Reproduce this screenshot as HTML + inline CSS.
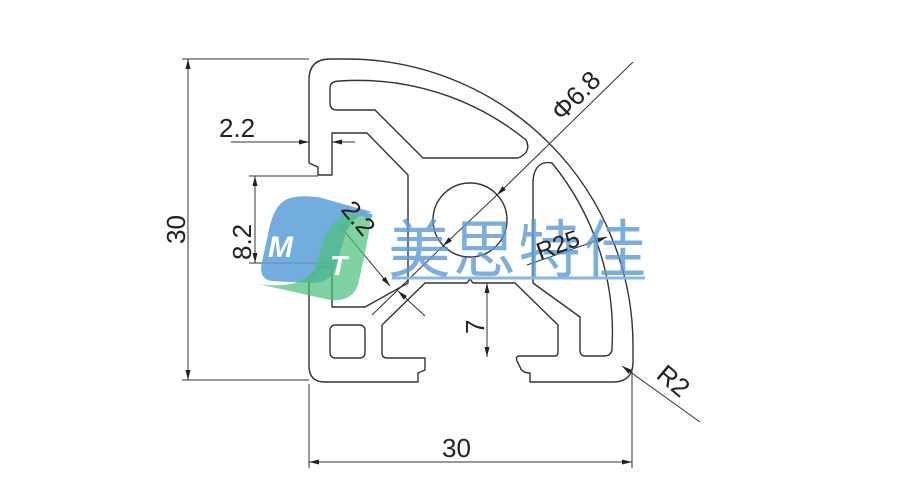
<!DOCTYPE html>
<html><head><meta charset="utf-8"><style>
html,body{margin:0;padding:0;background:#fff;}
svg{display:block;}
text{font-family:"Liberation Sans","DejaVu Sans",sans-serif;fill:#222;}
</style></head><body>
<svg width="900" height="500" viewBox="0 0 900 500" xmlns="http://www.w3.org/2000/svg">
<defs>
<marker id="a" markerWidth="10" markerHeight="6" refX="10" refY="3" orient="auto" markerUnits="userSpaceOnUse">
<path d="M0,0.5 L10,3 L0,5.5 Z" fill="#222"/></marker>
</defs>
<g fill="none" stroke="#333" stroke-width="1.4" stroke-linejoin="round">
<path d="M309,80 Q309,59 330,59 L346,59 A287,287 0 0 1 633,346 L633,362 Q633,382 613,382 L530,382 L530,373 Q522,373 520,367 L517,361 Q515,356 520,356 L555,356 Q558,356 558,352 L558,325 L515,283 L473,283 L470,279 L467,283 L425,283 L382,325 L382,353 Q382,358 387,358 L425,358 L425,370 L418,373 L418,382 L325,382 Q309,382 309,366 L309,278 L320,268 L332,265 L332,307 L365,307 L408,283 L408,175 L367,133 L332,133 L332,175 L318,175 L318,167 L309,163 Z"/>
<path d="M340,81 A266,266 0 0 1 526,140 Q532,152 518,158 L423,158 L375,110 L337,110 Q330,110 330,103 L330,88 Q330,81 340,81 Z"/>
<path d="M552,163 A268,268 0 0 1 612,348 Q612,356 604,356 L585,356 Q580,356 580,350 L580,317 L533,283 L533,180 Q535,160 552,163 Z"/>
<rect x="330" y="325" width="35" height="33" rx="5"/>
<circle cx="470" cy="220" r="37"/>
</g>
<g stroke="#333" stroke-width="1" fill="none">
<line x1="182" y1="59" x2="309" y2="59"/><line x1="182" y1="380" x2="309" y2="380"/>
<line x1="188" y1="220" x2="188" y2="59" marker-end="url(#a)"/><line x1="188" y1="220" x2="188" y2="380" marker-end="url(#a)"/>
<line x1="309" y1="384" x2="309" y2="468"/><line x1="632" y1="368" x2="632" y2="468"/>
<line x1="470" y1="462" x2="309" y2="462" marker-end="url(#a)"/><line x1="470" y1="462" x2="632" y2="462" marker-end="url(#a)"/>
<line x1="231" y1="142" x2="309" y2="142" marker-end="url(#a)"/><line x1="355" y1="142" x2="332" y2="142" marker-end="url(#a)"/>
<line x1="249" y1="176" x2="318" y2="176"/><line x1="249" y1="263" x2="332" y2="263"/>
<line x1="255" y1="220" x2="255" y2="176" marker-end="url(#a)"/><line x1="255" y1="220" x2="255" y2="263" marker-end="url(#a)"/>
<line x1="487" y1="320" x2="487" y2="283" marker-end="url(#a)"/><line x1="487" y1="320" x2="487" y2="357" marker-end="url(#a)"/>
<line x1="633" y1="62" x2="497" y2="195" marker-end="url(#a)"/>
<line x1="497" y1="195" x2="443" y2="246" marker-end="url(#a)"/>
<line x1="443" y1="246" x2="372" y2="315"/>
<line x1="340" y1="226" x2="390" y2="286" marker-end="url(#a)"/>
<line x1="425" y1="316" x2="398" y2="291" marker-end="url(#a)"/>
<line x1="527" y1="265" x2="607" y2="237" marker-end="url(#a)"/>
<line x1="700" y1="422" x2="622" y2="366" marker-end="url(#a)"/>
</g>
<g>
<path d="M290,198 Q300,195 318,197 L372,212 Q352,215 345,235 L337,264 Q332,283 312,283 L272,281 Q258,279 262,262 L270,225 Q276,202 290,198 Z" fill="#5a9fd8" opacity="0.85"/>
<path d="M340,218 Q348,210 362,213 L371,217 Q369,235 363,262 L358,285 Q352,302 330,300 L258,284 Q300,290 314,270 L324,238 Q330,224 340,218 Z" fill="#4cbf7a" opacity="0.7"/>
<text x="268" y="257" font-size="30" font-weight="bold" font-style="italic" style="fill:#fff">M</text>
<text x="330" y="275" font-size="28" font-weight="bold" font-style="italic" style="fill:#fff">T</text>
<line x1="345" y1="211" x2="372" y2="216" stroke="#6fa8dc" stroke-width="4"/>
</g>
<text x="388" y="272" font-size="63" style="fill:#5b9bd5;opacity:0.8;font-family:'Liberation Sans','Noto Sans CJK SC',sans-serif" textLength="258">美思特佳</text>
<line x1="392" y1="278" x2="645" y2="278" stroke="#8ab6e0" stroke-width="3"/>
<text x="219" y="137" font-size="26">2.2</text>
<text x="0" y="0" font-size="26" transform="translate(185,244) rotate(-90)">30</text>
<text x="442" y="457" font-size="26">30</text>
<text x="0" y="0" font-size="26" transform="translate(251,260) rotate(-90)">8.2</text>
<text x="0" y="0" font-size="26" transform="translate(484,334) rotate(-90)">7</text>
<text x="0" y="0" font-size="26" transform="translate(562,122) rotate(-45)">Φ6.8</text>
<text x="0" y="0" font-size="26" transform="translate(340,210) rotate(50)">2.2</text>
<text x="0" y="0" font-size="24" transform="translate(540,260) rotate(-20)">R25</text>
<text x="0" y="0" font-size="26" transform="translate(655,377) rotate(40)">R2</text>
</svg>
</body></html>
